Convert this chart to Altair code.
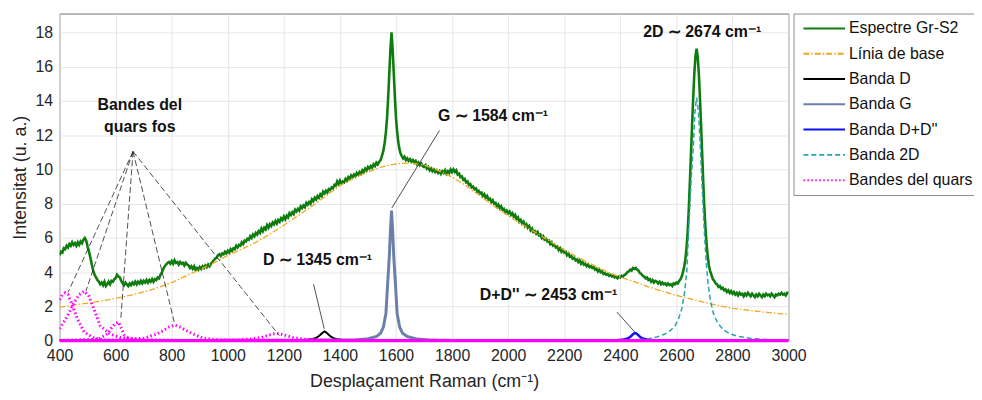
import altair as alt
import pandas as pd

# ---------------- data ----------------
serie_names = ["Espectre Gr-S2", "Línia de base", "Banda D", "Banda G",
               "Banda D+D''", "Banda 2D", "Bandes del quars"]
serie_colors = ["#0f7c0f", "#f0a81e", "#000000", "#6b7fa8", "#0a14f0", "#26a4a8", "#ff00ff"]
serie_dashes = [[1, 0], [6, 2, 1.5, 2], [1, 0], [1, 0], [1, 0], [5, 3], [1.5, 2.5]]
serie_widths = [2.6, 1.3, 2.0, 3.0, 2.5, 1.5, 3.0]

# measured spectrum: segments of (first x, step, intensities)
spec_segments = [
    (400, 5, [5.00, 5.20, 5.15, 5.40, 5.35, 5.55, 5.45, 5.65, 5.55, 5.75,
              5.60, 5.70, 5.55, 5.75, 5.60, 5.80, 5.70, 5.90, 6.00, 5.85,
              5.50, 5.20, 4.85, 4.45, 4.10, 3.85, 3.70, 3.55, 3.45, 3.30,
              3.40, 3.25, 3.45, 3.20, 3.30, 3.45, 3.30, 3.50, 3.45, 3.60,
              3.65, 3.85, 3.75, 3.70, 3.50, 3.35, 3.25, 3.40, 3.30, 3.20,
              3.35, 3.25, 3.40, 3.30, 3.45, 3.30, 3.45, 3.35, 3.50, 3.35,
              3.50, 3.40, 3.55, 3.40, 3.55, 3.45, 3.60, 3.45, 3.60, 3.55,
              3.70, 3.65, 3.85, 4.00, 4.20, 4.35, 4.45, 4.55, 4.60, 4.50,
              4.65, 4.50, 4.70, 4.55, 4.60, 4.45, 4.60, 4.50, 4.55, 4.40,
              4.55, 4.45, 4.40, 4.25, 4.35, 4.20, 4.35, 4.15, 4.25, 4.15,
              4.30, 4.20, 4.35, 4.25, 4.40, 4.30, 4.45, 4.35, 4.50, 4.60,
              4.70, 4.80, 4.85, 5.00, 5.05, 4.95, 5.10, 5.05, 5.20, 5.10,
              5.25, 5.15, 5.35, 5.25, 5.40, 5.35, 5.55, 5.45, 5.60, 5.55,
              5.75, 5.65, 5.85, 5.80, 5.95, 5.90, 6.10, 6.00, 6.20, 6.10,
              6.30, 6.20, 6.40, 6.30, 6.55, 6.40, 6.60, 6.50, 6.75, 6.60,
              6.80, 6.70, 6.90, 6.80, 7.00, 6.85, 7.05, 6.95, 7.15, 7.05,
              7.25, 7.10, 7.30, 7.20, 7.45, 7.35, 7.50, 7.40, 7.65, 7.55,
              7.70, 7.60, 7.85, 7.75, 7.90, 7.80, 8.05, 7.95, 8.10, 8.00,
              8.25, 8.15, 8.35, 8.25, 8.45, 8.35, 8.55, 8.45, 8.70, 8.60,
              8.75, 8.65, 8.85, 8.80, 8.95, 8.90, 9.10, 9.05, 9.30, 9.15,
              9.35, 9.20, 9.30, 9.25, 9.45, 9.35, 9.55, 9.45, 9.65, 9.55,
              9.70, 9.60, 9.80, 9.70, 9.85, 9.75, 9.95, 9.85, 10.05, 9.95,
              10.15, 10.05, 10.20, 10.10, 10.30, 10.20, 10.40, 10.30, 10.45, 10.55,
              10.80, 11.10]),
    (1560, 4, [11.60, 12.20, 13.00, 14.20, 15.60, 17.00, 18.00, 17.00, 15.60, 14.20,
               13.00, 12.20, 11.60, 11.20, 10.95]),
    (1620, 5, [10.80, 10.65, 10.75, 10.55, 10.65, 10.50, 10.60, 10.45, 10.55, 10.40,
               10.50, 10.30, 10.40, 10.25, 10.35, 10.20,
               10.15, 10.25, 10.05, 10.15, 9.95, 10.05, 9.90, 10.00, 9.85, 9.95,
               9.80, 9.90, 9.75, 9.90, 9.80, 9.95, 9.75, 9.90, 9.80, 10.00,
               9.85, 10.00, 9.85, 9.95, 9.70, 9.75, 9.55, 9.60, 9.40, 9.45,
               9.25, 9.30, 9.10, 9.15, 8.95, 9.00, 8.85, 8.90, 8.70, 8.75,
               8.60, 8.65, 8.45, 8.55, 8.35, 8.45, 8.25, 8.30, 8.10, 8.20,
               8.00, 8.05, 7.85, 7.95, 7.75, 7.85, 7.65, 7.70, 7.50, 7.60,
               7.45, 7.55, 7.35, 7.45, 7.25, 7.35, 7.10, 7.20, 6.95, 7.05,
               6.85, 6.95, 6.70, 6.80, 6.60, 6.70, 6.45, 6.55, 6.35, 6.40,
               6.25, 6.35, 6.15, 6.20, 6.00, 6.10, 5.90, 5.95, 5.80, 5.85,
               5.65, 5.75, 5.55, 5.60, 5.45, 5.50, 5.30, 5.40, 5.20, 5.30,
               5.15, 5.20, 5.00, 5.10, 4.90, 4.95, 4.80, 4.85, 4.70, 4.75,
               4.60, 4.70, 4.50, 4.60, 4.45, 4.50, 4.35, 4.45, 4.30, 4.35,
               4.25, 4.30, 4.15, 4.20, 4.05, 4.15, 4.00, 4.05, 3.90, 3.95,
               3.85, 3.90, 3.80, 3.85, 3.75, 3.80, 3.70, 3.75, 3.65, 3.75,
               3.70, 3.80, 3.75, 3.85, 3.90, 4.00, 4.05, 4.15, 4.10, 4.25,
               4.20, 4.25, 4.15, 4.10, 3.95, 3.90, 3.80, 3.75, 3.65, 3.70,
               3.55, 3.60, 3.45, 3.55, 3.40, 3.50, 3.45, 3.35, 3.45, 3.30,
               3.40, 3.30, 3.35, 3.25, 3.35, 3.25, 3.30, 3.20, 3.35, 3.30,
               3.40, 3.35, 3.50, 3.60]),
    (2620, 4, [3.80, 4.05, 4.35, 4.75, 5.40, 6.30, 7.60, 9.20, 10.90, 12.60,
               14.20, 15.60, 16.60, 17.05, 16.60, 15.60, 14.20, 12.60, 10.90, 9.20,
               7.70, 6.50, 5.60, 4.90, 4.40]),
    (2720, 5, [4.10, 3.85, 3.60, 3.50, 3.35, 3.30, 3.15, 3.20, 3.05, 3.10,
               2.95, 3.00, 2.85, 2.95, 2.80, 2.90,
               2.75, 2.85, 2.70, 2.80, 2.65, 2.80, 2.70, 2.75, 2.60, 2.75,
               2.65, 2.80, 2.70, 2.60, 2.75, 2.65, 2.55, 2.70, 2.60, 2.75,
               2.65, 2.55, 2.70, 2.60, 2.75, 2.65, 2.70, 2.60, 2.75, 2.65,
               2.55, 2.70, 2.65, 2.75, 2.70, 2.80, 2.70, 2.75, 2.65, 2.80,
               2.75]),
]

base_x = [400, 450, 500, 550, 600, 650, 700, 750, 800, 850, 900, 950, 1000, 1050,
          1100, 1150, 1200, 1250, 1300, 1350, 1400, 1450, 1500, 1550, 1600, 1650,
          1700, 1750, 1800, 1850, 1900, 1950, 2000, 2050, 2100, 2150, 2200, 2250,
          2300, 2350, 2400, 2450, 2500, 2550, 2600, 2650, 2700, 2750, 2800, 2850,
          2900, 2950, 3000]
base_y = [1.97, 2.08, 2.20, 2.33, 2.48, 2.65, 2.85, 3.10, 3.40, 3.78, 4.15, 4.55, 4.98, 5.35,
          5.75, 6.22, 6.75, 7.30, 7.85, 8.45, 9.05, 9.50, 9.85, 10.15, 10.33, 10.38,
          10.25, 9.95, 9.55, 9.05, 8.45, 7.85, 7.30, 6.80, 6.30, 5.80, 5.30, 4.85,
          4.45, 4.05, 3.72, 3.45, 3.15, 2.90, 2.65, 2.45, 2.25, 2.05, 1.90, 1.80,
          1.70, 1.62, 1.55]

d_x = [400, 1200, 1250, 1280, 1300, 1315, 1325, 1335, 1340, 1345, 1350, 1355, 1365,
       1375, 1390, 1410, 1450, 1500, 3000]
d_y = [0, 0.01, 0.03, 0.06, 0.10, 0.17, 0.28, 0.43, 0.50, 0.55, 0.50, 0.43, 0.28,
       0.17, 0.10, 0.05, 0.02, 0.01, 0]

g_x = [400, 1450, 1500, 1530, 1545, 1555, 1564, 1570, 1576, 1580, 1584, 1588, 1592,
       1598, 1604, 1613, 1623, 1640, 1670, 1720, 1850, 3000]
g_y = [0, 0.05, 0.12, 0.25, 0.45, 0.80, 1.60, 3.30, 4.90, 6.40, 7.60, 6.40, 4.90,
       3.30, 1.60, 0.80, 0.45, 0.25, 0.12, 0.05, 0.01, 0]

dd_x = [400, 2300, 2380, 2410, 2425, 2435, 2443, 2448, 2453, 2458, 2463, 2471, 2481,
        2496, 2526, 2600, 3000]
dd_y = [0, 0.01, 0.03, 0.07, 0.13, 0.22, 0.35, 0.42, 0.45, 0.42, 0.35, 0.22, 0.13,
        0.07, 0.03, 0.01, 0]

b2d_x = [400, 2400, 2450, 2500, 2530, 2560, 2580, 2595, 2607, 2619, 2629, 2637, 2645,
         2653, 2661, 2666, 2672, 2678, 2684, 2691, 2698, 2705, 2713, 2722, 2732, 2747,
         2767, 2792, 2822, 2872, 2932, 3000]
b2d_y = [0, 0.02, 0.05, 0.12, 0.22, 0.40, 0.62, 0.87, 1.25, 1.85, 2.80, 4.00, 6.90,
         9.50, 11.50, 13.30, 14.20, 13.50, 11.80, 9.30, 6.90, 4.90, 3.30, 2.30, 1.60,
         1.05, 0.65, 0.40, 0.25, 0.13, 0.07, 0.04]

q1_x = [400, 410, 420, 430, 445, 464, 488, 524, 560, 650, 800, 3000]
q1_y = [2.40, 2.70, 2.80, 2.70, 2.10, 1.27, 0.50, 0.15, 0.06, 0.02, 0, 0]
q2_x = [400, 428, 452, 470, 488, 505, 527, 545, 580, 615, 680, 800, 1000, 3000]
q2_y = [0.70, 1.45, 2.25, 2.70, 2.90, 2.60, 1.67, 0.87, 0.40, 0.20, 0.08, 0.03, 0.01, 0]
q3_x = [400, 540, 570, 585, 598, 610, 620, 630, 645, 670, 750, 3000]
q3_y = [0.02, 0.10, 0.40, 0.75, 1.00, 1.10, 0.75, 0.35, 0.15, 0.06, 0.02, 0]
q4_x = [400, 600, 700, 747, 770, 790, 810, 830, 850, 870, 890, 913, 950, 1050, 3000]
q4_y = [0.01, 0.04, 0.15, 0.40, 0.60, 0.80, 0.92, 0.80, 0.62, 0.45, 0.30, 0.15, 0.08, 0.03, 0]
q5_x = [400, 1000, 1080, 1120, 1150, 1175, 1200, 1230, 1270, 1350, 3000]
q5_y = [0, 0.03, 0.10, 0.20, 0.35, 0.45, 0.35, 0.20, 0.10, 0.03, 0]

# annotation arrows (data coordinates)
quars_tip = [662, 11.05]
quars_ends_x = [430, 494, 618, 809, 1184]
quars_ends_y = [2.83, 2.90, 1.18, 1.10, 0.30]
peak_lines_x = [1306, 1755, 2388]
peak_lines_y = [3.30, 12.27, 1.68]
peak_lines_x2 = [1344, 1585, 2451]
peak_lines_y2 = [0.70, 7.75, 0.52]

label_texts = ["Bandes del", "quars fos", "D ∼ 1345 cm⁻¹", "G ∼ 1584 cm⁻¹",
               "D+D'' ∼ 2453 cm⁻¹", "2D ∼ 2674 cm⁻¹"]
label_x = [686, 686, 1320, 1946, 2144, 2692]
label_y = [13.75, 12.5, 4.7, 13.1, 2.65, 18.0]

x_ticks = list(range(400, 3001, 200))
y_ticks = list(range(0, 19, 2))
x_domain = [400, 3000]
y_domain = [0, 19.1]

# ---------------- tables ----------------
spec_x, spec_y = [], []
for start, step, ys in spec_segments:
    for i, yv in enumerate(ys):
        spec_x.append(start + step * i)
        spec_y.append(yv)

curves = [
    (serie_names[0], "s", spec_x, spec_y),
    (serie_names[1], "b", base_x, base_y),
    (serie_names[2], "d", d_x, d_y),
    (serie_names[3], "g", g_x, g_y),
    (serie_names[4], "dd", dd_x, dd_y),
    (serie_names[5], "2d", b2d_x, b2d_y),
    (serie_names[6], "q1", q1_x, q1_y),
    (serie_names[6], "q2", q2_x, q2_y),
    (serie_names[6], "q3", q3_x, q3_y),
    (serie_names[6], "q4", q4_x, q4_y),
    (serie_names[6], "q5", q5_x, q5_y),
]
rows = []
for name, cid, xs, ys in curves:
    for xv, yv in zip(xs, ys):
        rows.append({"serie": name, "curve": cid, "x": xv, "y": yv})
df = pd.DataFrame(rows)

quars_df = pd.DataFrame({"x": [quars_tip[0]] * len(quars_ends_x),
                         "y": [quars_tip[1]] * len(quars_ends_x),
                         "x2": quars_ends_x, "y2": quars_ends_y})
peak_df = pd.DataFrame({"x": peak_lines_x, "y": peak_lines_y,
                        "x2": peak_lines_x2, "y2": peak_lines_y2})
zero_df = pd.DataFrame({"x": [x_domain[0]], "x2": [x_domain[1]], "y": [0]})
text_df = pd.DataFrame({"t": label_texts, "x": label_x, "y": label_y})

FONT = "Liberation Sans"

x_enc = alt.X("x:Q", scale=alt.Scale(domain=x_domain, nice=False, zero=False),
              axis=alt.Axis(values=x_ticks, title="Desplaçament Raman (cm⁻¹)",
                            labelFlush=False, labelOverlap=False, format="d"))
y_enc = alt.Y("y:Q", scale=alt.Scale(domain=y_domain, nice=False),
              axis=alt.Axis(values=y_ticks, title="Intensitat (u. a.)",
                            labelOverlap=False, format="d"))
color_enc = alt.Color("serie:N", scale=alt.Scale(domain=serie_names, range=serie_colors),
                      legend=alt.Legend(title=None, orient="right", offset=5,
                                        symbolType="M-1,0H7.4", symbolSize=100,
                                        symbolStrokeWidth=2, labelOffset=33,
                                        labelFontSize=16, labelFont=FONT, labelColor="#111",
                                        rowPadding=9.5, padding=7,
                                        strokeColor="#8c8c8c", fillColor="white",
                                        labelLimit=300))
dash_enc = alt.StrokeDash("serie:N", scale=alt.Scale(domain=serie_names, range=serie_dashes))

layers = []
for name, w in zip(serie_names, serie_widths):
    layers.append(
        alt.Chart(df).transform_filter(alt.datum.serie == name)
        .mark_line(strokeWidth=w, clip=True)
        .encode(x=x_enc, y=y_enc, color=color_enc, strokeDash=dash_enc, detail="curve:N")
    )

zero_line = alt.Chart(zero_df).mark_rule(color="#ff00ff", strokeWidth=3).encode(
    x=x_enc, x2=alt.X2("x2:Q"), y=y_enc)
quars_lines = alt.Chart(quars_df).mark_rule(color="#222", strokeWidth=0.8,
                                            strokeDash=[6, 3]).encode(
    x=x_enc, y=y_enc, x2=alt.X2("x2:Q"), y2=alt.Y2("y2:Q"))
peak_lines = alt.Chart(peak_df).mark_rule(color="#222", strokeWidth=0.8).encode(
    x=x_enc, y=y_enc, x2=alt.X2("x2:Q"), y2=alt.Y2("y2:Q"))
texts = alt.Chart(text_df).mark_text(font=FONT, fontSize=16, fontWeight="bold",
                                     align="center", baseline="middle", color="#111").encode(
    x=x_enc, y=y_enc, text="t:N")

chart = alt.layer(*layers, zero_line, quars_lines, peak_lines, texts).properties(
    width=735, height=330,
    autosize=alt.AutoSizeParams(type="none"),
    padding={"left": 52, "top": 4, "right": 187, "bottom": 50},
).configure_view(stroke="#6e6e6e", strokeWidth=1).configure_axis(
    grid=True, gridColor="#e6e6e6", gridWidth=1, domain=False, ticks=False,
    labelFont=FONT, labelFontSize=16, labelColor="#262626",
    titleFont=FONT, titleFontSize=18, titleFontWeight="normal", titleColor="#262626",
).configure_axisX(labelPadding=7, titlePadding=9).configure_axisY(
    labelPadding=7, titlePadding=6)

chart.save("out.html", embed_options={"renderer": "svg", "actions": False})
